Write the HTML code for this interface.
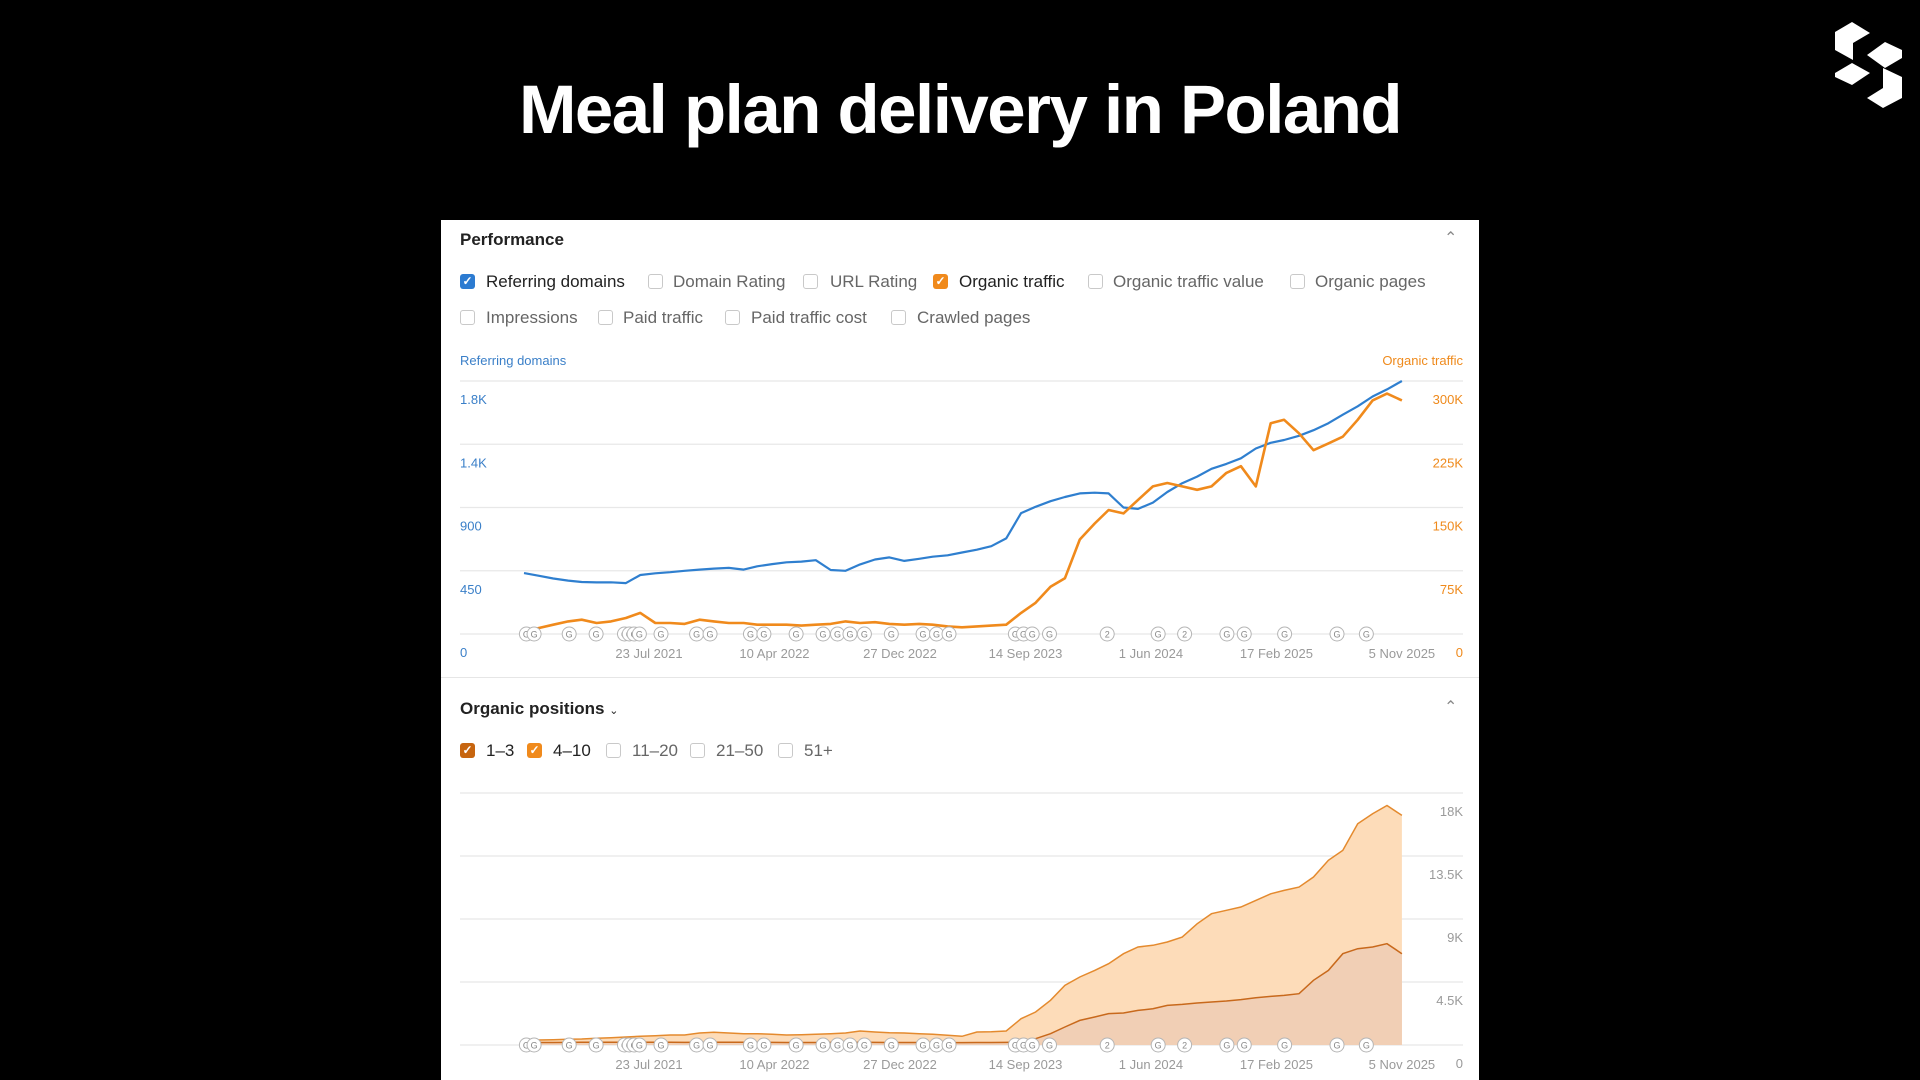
<!DOCTYPE html>
<html><head><meta charset="utf-8">
<style>
body{margin:0;width:1920px;height:1080px;background:#000;position:relative;overflow:hidden;font-family:"Liberation Sans",sans-serif;}
.abs{position:absolute;}
#title{left:0;top:70px;width:1920px;text-align:center;color:#fff;font-weight:bold;font-size:69px;letter-spacing:-1.5px;}
#panel{left:441px;top:220px;width:1038px;height:860px;background:#fff;}
.h{font-weight:bold;font-size:17px;color:#222;}
.cb{width:15px;height:15px;border:1.5px solid #c9c9c9;border-radius:3px;box-sizing:border-box;background:#fff;}
.cb.on{border:none;color:#fff;font-size:12px;line-height:15px;text-align:center;font-weight:bold;}
.lb{font-size:17px;color:#666;}
.lb.on{color:#222;}
.chev{font-size:16px;color:#888;}
</style></head><body>
<div id="title" class="abs">Meal plan delivery in Poland</div>
<svg class="abs" style="left:0;top:0" width="1920" height="120">
<g fill="#fff">
<polygon points="1835,32 1852,22 1870,33 1853,43 1853,60 1835,50"/>
<polygon points="1867,55 1885,42 1902,50 1902,58 1885,68"/>
<polygon points="1835,73 1852,63 1870,73 1852,85 1835,77"/>
<polygon points="1883,68 1902,77 1902,98 1883,108 1867,98 1883,88"/>
</g></svg>
<div id="panel" class="abs"></div>

<div class="abs h" style="left:460px;top:230px">Performance</div>
<div class="abs chev" style="left:1444px;top:228px">&#8963;</div>

<div class="abs cb on" style="left:460px;top:274px;background:#2c7bd1">✓</div>
<div class="abs lb on" style="left:486px;top:272px">Referring domains</div>
<div class="abs cb" style="left:648px;top:274px"></div>
<div class="abs lb" style="left:673px;top:272px">Domain Rating</div>
<div class="abs cb" style="left:803px;top:274px"></div>
<div class="abs lb" style="left:830px;top:272px">URL Rating</div>
<div class="abs cb on" style="left:933px;top:274px;background:#f08a1c">✓</div>
<div class="abs lb on" style="left:959px;top:272px">Organic traffic</div>
<div class="abs cb" style="left:1088px;top:274px"></div>
<div class="abs lb" style="left:1113px;top:272px">Organic traffic value</div>
<div class="abs cb" style="left:1290px;top:274px"></div>
<div class="abs lb" style="left:1315px;top:272px">Organic pages</div>

<div class="abs cb" style="left:460px;top:310px"></div>
<div class="abs lb" style="left:486px;top:308px">Impressions</div>
<div class="abs cb" style="left:598px;top:310px"></div>
<div class="abs lb" style="left:623px;top:308px">Paid traffic</div>
<div class="abs cb" style="left:725px;top:310px"></div>
<div class="abs lb" style="left:751px;top:308px">Paid traffic cost</div>
<div class="abs cb" style="left:891px;top:310px"></div>
<div class="abs lb" style="left:917px;top:308px">Crawled pages</div>

<div class="abs" style="left:441px;top:677px;width:1038px;height:1px;background:#e6e6e6"></div>

<div class="abs h" style="left:460px;top:699px">Organic positions <span style="font-size:11px;font-weight:normal">&#8964;</span></div>
<div class="abs chev" style="left:1444px;top:697px">&#8963;</div>
<div class="abs cb on" style="left:460px;top:743px;background:#c7650f">✓</div>
<div class="abs lb on" style="left:486px;top:741px">1–3</div>
<div class="abs cb on" style="left:527px;top:743px;background:#f08a1c">✓</div>
<div class="abs lb on" style="left:553px;top:741px">4–10</div>
<div class="abs cb" style="left:606px;top:743px"></div>
<div class="abs lb" style="left:632px;top:741px">11–20</div>
<div class="abs cb" style="left:690px;top:743px"></div>
<div class="abs lb" style="left:716px;top:741px">21–50</div>
<div class="abs cb" style="left:778px;top:743px"></div>
<div class="abs lb" style="left:804px;top:741px">51+</div>

<svg id="charts" class="abs" style="left:0;top:0" width="1920" height="1080"></svg>

<script>
const refDomains=[433,415,395,380,370,367,368,362,420,432,440,450,458,465,470,458,482,497,510,515,525,455,450,495,530,545,520,535,550,560,580,600,625,680,860,905,945,975,1000,1005,1000,900,890,935,1010,1073,1120,1175,1210,1250,1320,1360,1380,1410,1450,1500,1560,1620,1690,1740,1800];
const organicTraffic=[3,7,11,15,17,13,15,19,25,13,13,12,17,15,13,13,11,11,11,10,11,12,15,13,14,12,11,12,11,9,8,9,10,11,25,37,56,66,112,131,147,143,159,175,179,175,171,175,191,199,175,250,254,238,218,226,234,254,277,285,277];
const posTotal=[333,357,380,405,430,476,524,570,620,666,714,714,857,905,857,810,810,762,714,738,762,810,857,1000,930,880,857,810,762,690,620,930,950,1000,1880,2356,3190,4260,4860,5330,5810,6520,7000,7120,7355,7710,8660,9380,9620,9860,10330,10800,11040,11280,12000,13190,13900,15800,16520,17110,16400];
const pos13=[170,175,180,185,190,190,195,200,200,195,190,185,190,195,195,190,185,185,180,180,180,185,185,190,185,180,180,175,170,170,170,175,180,185,214,450,810,1285,1760,2000,2240,2285,2475,2595,2830,2900,3000,3070,3140,3240,3380,3475,3545,3665,4620,5330,6520,6880,7000,7235,6520];
const leftTicks=["0","450","900","1.4K","1.8K"];
const rightTicks=["0","75K","150K","225K","300K"];
const posTicks=["0","4.5K","9K","13.5K","18K"];
const xTickDates=["2021-07-23","2022-04-10","2022-12-27","2023-09-14","2024-06-01","2025-02-17","2025-11-05"];
const xTickLabels=["23 Jul 2021","10 Apr 2022","27 Dec 2022","14 Sep 2023","1 Jun 2024","17 Feb 2025","5 Nov 2025"];
const eventDays=[-255,-239,-166,-110,-51,-41,-31,-20,25,99,127,211,239,306,362,392,418,448,504,570,598,624,762,779,797,833,953,1059,1114,1202,1238,1322,1431,1492];
const eventLabels=["G","G","G","G","G","G","G","G","G","G","G","G","G","G","G","G","G","G","G","G","G","G","G","G","G","G","2","G","2","G","G","G","G","G"];

const NS="http://www.w3.org/2000/svg";
const svg=document.getElementById('charts');
const REF=Date.UTC(2021,6,23);
function days(s){const p=s.split('-');return (Date.UTC(+p[0],+p[1]-1,+p[2])-REF)/864e5;}
function monthDate(m){return (Date.UTC(2020,10+m,5)-REF)/864e5;}
function xS(d){return 649+d*0.4808;}
const L=460,R=1463;
const c1={base:634,top:381};
const c2={base:1045,top:793};
function y1L(v){return c1.base-v/1800*(c1.base-c1.top);}
function y1R(v){return c1.base-v/300*(c1.base-c1.top);}
function y2(v){return c2.base-v/18000*(c2.base-c2.top);}
function el(t,a,txt){const e=document.createElementNS(NS,t);for(const k in a)e.setAttribute(k,a[k]);if(txt!==undefined)e.textContent=txt;svg.appendChild(e);return e;}

let t=el('text',{x:460,y:365,'font-size':13,fill:'#3a7fc8','font-family':'Liberation Sans'},'Referring domains');


t=el('text',{x:R,y:365,'font-size':13,fill:'#ef8a1c','text-anchor':'end','font-family':'Liberation Sans'},'Organic traffic');



for(let i=0;i<5;i++){
  const gy=c1.base-i*(c1.base-c1.top)/4;
  let g=el('line',{x1:L,x2:R,y1:gy,y2:gy,stroke:'#e8e8e8','stroke-width':1.2});
  
  
  let a=el('text',{x:460,y:gy+23,'font-size':13,fill:'#3a7fc8','font-family':'Liberation Sans'},leftTicks[i]);
  
  
  let b=el('text',{x:R,y:gy+23,'font-size':13,fill:'#ef8a1c','text-anchor':'end','font-family':'Liberation Sans'},rightTicks[i]);
  
  
  const gy2=c2.base-i*(c2.base-c2.top)/4;
  g=el('line',{x1:L,x2:R,y1:gy2,y2:gy2,stroke:'#e8e8e8','stroke-width':1.2});
  
  
  let c=el('text',{x:R,y:gy2+23,'font-size':13,fill:'#9a9a9a','text-anchor':'end','font-family':'Liberation Sans'},posTicks[i]);
  
  
}
xTickDates.forEach((d,i)=>{
  [c1.base+24,c2.base+24].forEach(yy=>{
    const e=el('text',{x:xS(days(d)),y:yy,'font-size':13,fill:'#9a9a9a','text-anchor':'middle','font-family':'Liberation Sans'},xTickLabels[i]);
    
    
  });
});

function pts(arr,yf){return arr.map((v,i)=>xS(monthDate(i)).toFixed(1)+','+yf(v).toFixed(1));}
const x0=xS(monthDate(0)),xN=xS(monthDate(posTotal.length-1));
let a=el('polygon',{points:x0+','+c2.base+' '+pts(posTotal,y2).join(' ')+' '+xN+','+c2.base,fill:'#fddcb9'});


a=el('polyline',{points:pts(posTotal,y2).join(' '),fill:'none',stroke:'#e48a2e','stroke-width':1.5});


a=el('polygon',{points:x0+','+c2.base+' '+pts(pos13,y2).join(' ')+' '+xN+','+c2.base,fill:'#f1cfb5'});


a=el('polyline',{points:pts(pos13,y2).join(' '),fill:'none',stroke:'#c8691c','stroke-width':1.5});



let l=el('polyline',{points:pts(refDomains,y1L).join(' '),fill:'none',stroke:'#2f7fcf','stroke-width':2.2,'stroke-linejoin':'round'});


l=el('polyline',{points:pts(organicTraffic,y1R).join(' '),fill:'none',stroke:'#f08a1c','stroke-width':2.6,'stroke-linejoin':'round'});



eventDays.forEach((d,i)=>{
  [c1.base,c2.base].forEach(yy=>{
    const cx=xS(d);
    const c=el('circle',{cx:cx,cy:yy,r:7,fill:'#fff',stroke:'#b5b5b5','stroke-width':1});
    
    
    const tx=el('text',{x:cx,y:yy+3.5,'font-size':9,fill:'#888','text-anchor':'middle','font-family':'Liberation Sans'},eventLabels[i]);
    
    
  });
});
</script>
</body></html>
